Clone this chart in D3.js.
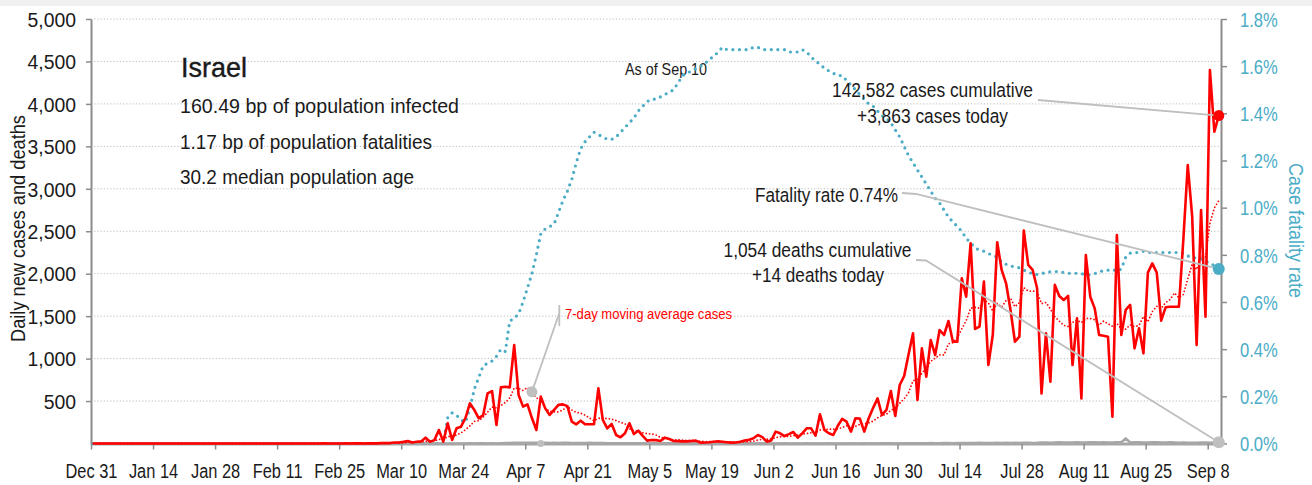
<!DOCTYPE html>
<html>
<head>
<meta charset="utf-8">
<script src="https://cdn.jsdelivr.net/npm/d3@7"></script>
<style>
  body { margin: 0; background: #fff; }
  svg { display: block; }
  text { font-family: "Liberation Sans", Arial, sans-serif; fill: #1a1a1a; }
</style>
</head>
<body>
<svg id="chart" width="1312" height="485"></svg>
<script>
// Israel, daily series starting Dec 31, 2019 (one value per day, through Sep 10, 2020)
const dailyCases = [
  0,0,0,0,0,0,0,0,0,0, 0,0,0,0,0,0,0,0,0,0, 0,0,0,0,0,0,0,0,0,0,
  0,0,0,0,0,0,0,0,0,0, 0,0,0,0,0,0,0,0,0,0, 0,0,
  1,0,0,0,0,1,0,1,3,0,3,1,2,4,4,5,11,
  11,19,29,12,20,25,69,20,40,159,22,
  238,41,179,198,300,473,395,296,336,591,
  618,218,661,669,661,1160,571,434,462,300,
  159,552,414,336,395,455,461,440,257,226,
  269,226,226,226,650,277,179,230,100,73,
  120,238,112,151,89,34,42,40,30,69,
  53,30,28,25,25,30,34,10,12,15,
  20,26,20,15,10,12,20,34,45,61,
  100,75,22,35,140,120,88,110,135,69,
  120,179,179,92,343,159,120,100,206,289,
  257,140,297,293,140,297,420,532,336,395,
  618,324,689,795,1050,1298,512,1121,787,1219,
  1042,1337,1278,1443,1199,1199,1946,1730,2358,1349,
  1377,1907,924,1278,2370,2044,1887,1573,1199,1258,
  2507,2103,2044,1828,590,1298,728,1868,1738,1691,
  1738,924,1475,531,2220,1729,1592,1278,1270,1258,
  316,2456,1278,1573,1632,1121,1357,1062,2012,2122,
  2012,1447,1604,1610,1610,1612,2400,3280,2671,1160,
  2749,1494,4399,3673,3863
];

const dailyDeaths = [
  0,0,0,0,0,0,0,0,0,0, 0,0,0,0,0,0,0,0,0,0, 0,0,0,0,0,0,0,0,0,0,
  0,0,0,0,0,0,0,0,0,0, 0,0,0,0,0,0,0,0,0,0, 0,0,0,0,0,0,0,0,0,0,
  0,0,0,0,0,0,0,0,0,0, 0,0,0,0,0,0,0,0,0,0,
  1,0,0,1,1,2,1,3,2,1,3,1,
  4,5,7,9,8,9,10,9,9,8,9,7,8,7,10,8,6,5,6,7,8,6,5,7,4,3,3,4,3,3,
  2,3,2,3,2,4,1,2,3,2,3,2,4,2,1,2,3,2,1,1,2,3,2,3,2,3,2,1,2,2,1,
  1,0,1,2,1,0,1,1,2,1,0,1,1,2,1,1,0,1,2,1,1,2,1,2,1,3,2,2,1,2,
  2,3,2,3,4,2,5,3,4,5,6,4,5,6,5,7,6,8,5,7,6,8,7,9,6,8,7,8,9,7,8,
  11,12,10,13,14,11,13,12,15,13,11,16,14,12,14,13,11,14,15,61,12,14,16,13,12,14,15,12,13,14,13,
  10,11,9,10,10,12,11,9,12,14
];

// Case fatality rate, percent
const fatalityRate = [
  0,0,0,0,0,0,0,0,0,0, 0,0,0,0,0,0,0,0,0,0, 0,0,0,0,0,0,0,0,0,0,
  0,0,0,0,0,0,0,0,0,0, 0,0,0,0,0,0,0,0,0,0, 0,0,0,0,0,0,0,0,0,0,
  0,0,0,0,0,0,0,0,0,0, 0,0,0,0,0,0,0,0,0,0,
  0.11,0.13,0.12,0.10,0.09,0.15,0.23,0.28,0.33,0.34,
  0.35,0.37,0.40,0.39,0.52,0.53,0.55,0.60,0.66,0.72,
  0.80,0.89,0.91,0.92,0.93,0.98,1.03,1.07,1.12,1.19,
  1.25,1.28,1.30,1.32,1.31,1.30,1.29,1.29,1.30,1.32,
  1.34,1.36,1.38,1.41,1.43,1.45,1.46,1.46,1.47,1.48,
  1.49,1.50,1.53,1.56,1.57,1.58,1.59,1.60,1.61,1.63,
  1.64,1.66,1.68,1.67,1.67,1.67,1.67,1.67,1.67,1.68,
  1.68,1.67,1.67,1.67,1.67,1.67,1.67,1.66,1.66,1.66,
  1.67,1.66,1.64,1.62,1.61,1.59,1.58,1.57,1.56,1.56,
  1.54,1.52,1.50,1.48,1.46,1.44,1.43,1.41,1.39,1.38,
  1.36,1.33,1.30,1.26,1.22,1.19,1.16,1.13,1.10,1.07,
  1.04,1.02,0.99,0.96,0.94,0.92,0.90,0.87,0.85,0.83,
  0.82,0.815,0.805,0.80,0.79,0.77,0.76,0.752,0.75,0.745,
  0.735,0.73,0.717,0.717,0.72,0.726,0.728,0.729,0.729,0.725,
  0.722,0.722,0.722,0.72,0.717,0.715,0.72,0.729,0.732,0.735,
  0.739,0.73,0.74,0.79,0.807,0.807,0.812,0.815,0.81,0.81,
  0.81,0.81,0.81,0.81,0.81,0.81,0.807,0.795,0.79,0.785,
  0.782,0.775,0.762,0.755,0.74
];

const dateTicks = ["2019-12-31","2020-01-14","2020-01-28","2020-02-11","2020-02-25","2020-03-10",
  "2020-03-24","2020-04-07","2020-04-21","2020-05-05","2020-05-19","2020-06-02","2020-06-16",
  "2020-06-30","2020-07-14","2020-07-28","2020-08-11","2020-08-25","2020-09-08"];
const casesTicks = [500, 1000, 1500, 2000, 2500, 3000, 3500, 4000, 4500, 5000];
const rateTicks = [0, 0.2, 0.4, 0.6, 0.8, 1.0, 1.2, 1.4, 1.6, 1.8];

const countryName = "Israel";
const profileLines = ["160.49 bp of population infected", "1.17 bp of population fatalities", "30.2 median population age"];
const casesCumulative = 142582;
const asOfLabel = "As of Sep 10";

// ---- derived series ----
const dayDate = i => new Date(Date.UTC(2019, 11, 31 + i, 12));
const movingAvg = dailyCases.map((v, i) => d3.mean(dailyCases.slice(Math.max(0, i - 6), i + 1)));
const last = dailyCases.length - 1;
const deathsCumulative = d3.sum(dailyDeaths);
const fmt = d3.format(",");

// ---- scales ----
const x = d3.scaleUtc().domain([Date.UTC(2019, 11, 31), Date.UTC(2020, 8, 11)]).range([91, 1221]);
const yCases = d3.scaleLinear().domain([0, 5000]).range([443.5, 19]);
const yRate = d3.scaleLinear().domain([0, 1.8]).range([443.5, 19]);

const svg = d3.select("#chart");
svg.append("rect").attr("width", 1312).attr("height", 6).attr("fill", "#f0f0f0");

// condensed lettering: squeeze a text run to a given width
const fit = (sel, w) => sel.attr("textLength", w).attr("lengthAdjust", "spacingAndGlyphs");
const squeeze = k => function () { fit(d3.select(this), this.getComputedTextLength() * k); };

// gridlines
svg.append("g").selectAll("line").data(casesTicks).join("line")
  .attr("x1", 91).attr("x2", 1221)
  .attr("y1", d => yCases(d)).attr("y2", d => yCases(d))
  .attr("stroke", "#bdbdbd").attr("stroke-width", 1).attr("stroke-dasharray", "1.2 2");

// axes
const axisGrey = "#8c8c8c";
const gx = svg.append("g").attr("transform", `translate(0,${yCases(0)})`)
  .call(d3.axisBottom(x).tickValues(dateTicks.map(s => new Date(s + "T00:00:00Z")))
    .tickFormat(d3.utcFormat("%b %-d")).tickSize(6).tickSizeOuter(0));
gx.select(".domain").attr("stroke", "#a6a6a6").attr("stroke-width", 3);
gx.selectAll(".tick line").attr("stroke", axisGrey).attr("stroke-width", 1.5);
gx.selectAll(".tick text").attr("y", 34).attr("dy", 0).style("font-size", "20px").each(squeeze(0.82));

const gl = svg.append("g").attr("transform", "translate(91,0)")
  .call(d3.axisLeft(yCases).tickValues(casesTicks).tickFormat(fmt).tickSize(5).tickPadding(10).tickSizeOuter(0));
gl.select(".domain").attr("stroke", axisGrey).attr("stroke-width", 2);
gl.selectAll(".tick line").attr("stroke", axisGrey).attr("stroke-width", 1.5);
gl.selectAll(".tick text").style("font-size", "20px").attr("dy", "0.36em").each(squeeze(0.97));

const gr = svg.append("g").attr("transform", "translate(1221,0)")
  .call(d3.axisRight(yRate).tickValues(rateTicks).tickFormat(d => d.toFixed(1) + "%").tickSize(6).tickPadding(13).tickSizeOuter(0));
gr.select(".domain").attr("stroke", axisGrey).attr("stroke-width", 2);
gr.selectAll(".tick line").attr("stroke", axisGrey).attr("stroke-width", 1.5);
gr.selectAll(".tick text").style("font-size", "20px").style("fill", "#4bacc6").attr("dy", "0.36em").each(squeeze(0.83));

// axis titles
fit(svg.append("text").attr("transform", "translate(25,228.5) rotate(-90)")
  .attr("text-anchor", "middle").style("font-size", "20px").text("Daily new cases and deaths"), 227);
fit(svg.append("text").attr("transform", "translate(1289,230.5) rotate(90)")
  .attr("text-anchor", "middle").style("font-size", "20px").style("fill", "#4bacc6").text("Case fatality rate"), 135);

// country profile
fit(svg.append("text").attr("x", 181).attr("y", 77).style("font-size", "28px")
  .style("stroke", "#1a1a1a").style("stroke-width", 0.4).text(countryName), 66);
const profileWidths = [279, 252, 234];
profileLines.forEach((t, i) => {
  fit(svg.append("text").attr("x", 180).attr("y", 113 + i * 35.5).style("font-size", "21px").text(t), profileWidths[i]);
});
fit(svg.append("text").attr("x", 625).attr("y", 75).style("font-size", "17px").text(asOfLabel), 82);

// series
const line = yAcc => d3.line().x((d, i) => x(dayDate(i))).y(yAcc);
svg.append("path").datum(fatalityRate).attr("d", line(d => yRate(d)))
  .attr("fill", "none").attr("stroke", "#4bacc6").attr("stroke-width", 3.2)
  .attr("stroke-linecap", "round").attr("stroke-dasharray", "0 6.6");
svg.append("path").datum(dailyDeaths).attr("d", line(d => yCases(d)))
  .attr("fill", "none").attr("stroke", "#a6a6a6").attr("stroke-width", 2.5).attr("stroke-linejoin", "round");
svg.append("path").datum(dailyCases).attr("d", line(d => yCases(d)))
  .attr("fill", "none").attr("stroke", "#ff0000").attr("stroke-width", 2.6).attr("stroke-linejoin", "round");
svg.append("path").datum(movingAvg).attr("d", line(d => yCases(d)))
  .attr("fill", "none").attr("stroke", "#ff0000").attr("stroke-width", 1.8)
  .attr("stroke-linecap", "round").attr("stroke-dasharray", "0 3.4");

// callouts
const callGrey = "#bfbfbf";
const pCase = [x(dayDate(last)), yCases(dailyCases[last])];
const pRate = [x(dayDate(last)), yRate(fatalityRate[last])];
const pDeath = [x(dayDate(last)), yCases(dailyDeaths[last])];
const maDay = 99;
const pMA = [x(dayDate(maDay)), yCases(movingAvg[maDay])];

const leader = pts => svg.append("path").attr("d", d3.line()(pts))
  .attr("fill", "none").attr("stroke", callGrey).attr("stroke-width", 1.8);
leader([[1038, 100], pCase]);
leader([[902, 193], [916, 194], pRate]);
leader([[916, 260], [926, 260.5], pDeath]);
leader([pMA, [559, 314]]);
leader([[559.3, 305], [559.3, 326]]);

svg.append("circle").attr("cx", x(dayDate(101))).attr("cy", yCases(0)).attr("r", 3.5).attr("fill", callGrey);
svg.append("circle").attr("cx", pMA[0]).attr("cy", pMA[1]).attr("r", 5.5).attr("fill", callGrey);
svg.append("circle").attr("cx", pCase[0]).attr("cy", pCase[1]).attr("r", 5.5).attr("fill", "#ff0000");
svg.append("circle").attr("cx", pRate[0]).attr("cy", pRate[1]).attr("r", 6).attr("fill", "#4bacc6");
svg.append("circle").attr("cx", pDeath[0]).attr("cy", pDeath[1]).attr("r", 6).attr("fill", callGrey);

const note = (t, xPos, yPos, w, size, anchor) => fit(svg.append("text").attr("x", xPos).attr("y", yPos)
  .attr("text-anchor", anchor || "middle").style("font-size", (size || 20.5) + "px").text(t), w);
note(`${fmt(casesCumulative)} cases cumulative`, 932.5, 96.5, 201);
note(`+${fmt(dailyCases[last])} cases today`, 932.5, 122.5, 151);
note(`Fatality rate ${fatalityRate[last].toFixed(2)}%`, 755, 201.5, 143, 20.5, "start");
note(`${fmt(deathsCumulative)} deaths cumulative`, 817.5, 256.5, 188);
note(`+${fmt(dailyDeaths[last])} deaths today`, 818, 282, 132);
note("7-day moving average cases", 565, 318.5, 167, 15.5, "start").style("fill", "#ff0000");
</script>
</body>
</html>
